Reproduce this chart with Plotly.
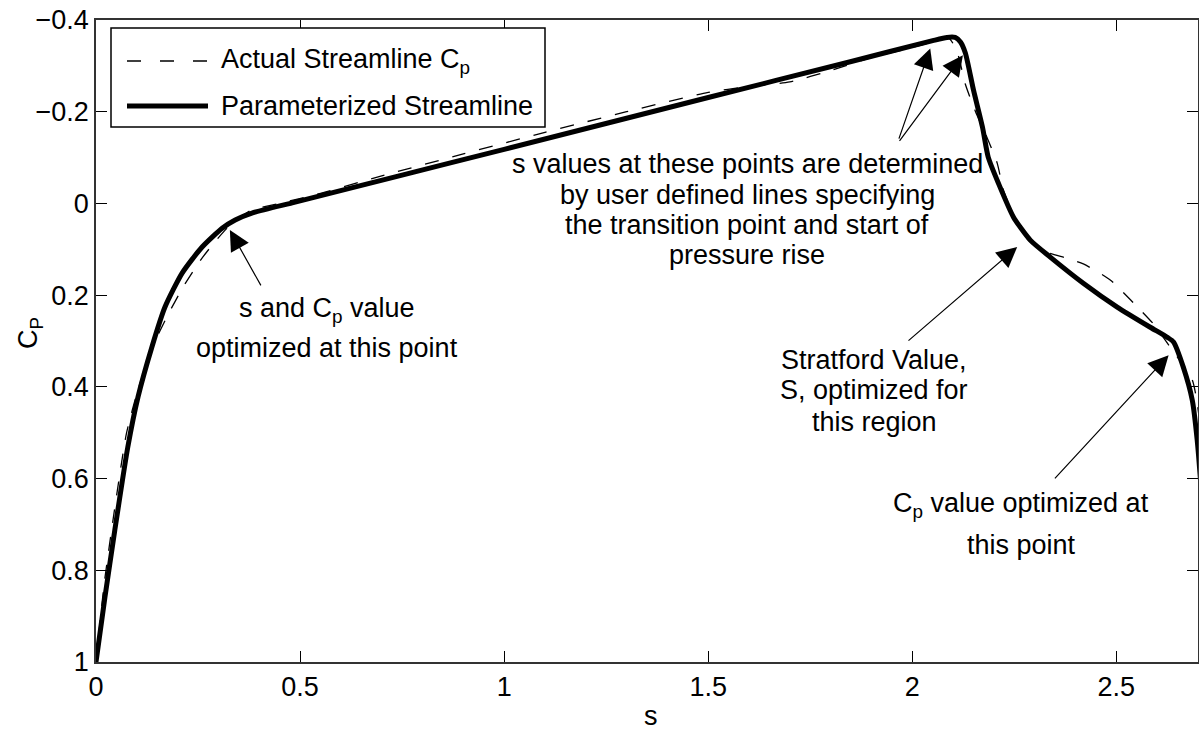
import plotly.graph_objects as go

# Parameterized streamline Cp distribution
s_param = [0.0, 0.022, 0.046, 0.078, 0.103, 0.137, 0.169, 0.211, 0.26, 0.309,
           0.341, 0.382, 0.488, 0.733, 1.0, 1.5, 1.848, 2.05, 2.085, 2.105,
           2.118, 2.13, 2.15, 2.172, 2.186, 2.211, 2.248, 2.289, 2.338, 2.419,
           2.502, 2.583, 2.625, 2.64, 2.664, 2.686, 2.698, 2.71, 2.725]
cp_param = [1.0, 0.858, 0.713, 0.531, 0.422, 0.313, 0.226, 0.152, 0.095, 0.054,
            0.036, 0.021, -0.003, -0.058, -0.118, -0.231, -0.309, -0.355, -0.362, -0.362,
            -0.352, -0.328, -0.247, -0.166, -0.101, -0.044, 0.030, 0.080, 0.117, 0.174,
            0.226, 0.270, 0.292, 0.302, 0.357, 0.429, 0.516, 0.65, 0.85]

# Actual streamline Cp distribution
s_actual = [0.0, 0.02, 0.045, 0.075, 0.105, 0.14, 0.175, 0.215, 0.255, 0.29,
            0.32, 0.345, 0.38, 0.45, 0.55, 0.7, 0.9, 1.1, 1.3, 1.5,
            1.6, 1.7, 1.8, 1.9, 2.0, 2.05, 2.09, 2.11, 2.13, 2.155,
            2.18, 2.208, 2.223, 2.25, 2.272, 2.3, 2.331, 2.38, 2.419, 2.485,
            2.542, 2.591, 2.637, 2.686, 2.72]
cp_actual = [1.0, 0.83, 0.67, 0.5, 0.4, 0.31, 0.245, 0.18, 0.125, 0.085,
             0.055, 0.035, 0.015, 0.0, -0.022, -0.06, -0.108, -0.155, -0.2, -0.242,
             -0.255, -0.265, -0.29, -0.318, -0.34, -0.352, -0.36, -0.33, -0.26, -0.2,
             -0.15, -0.088, -0.03, 0.03, 0.068, 0.092, 0.107, 0.12, 0.132, 0.167,
             0.217, 0.263, 0.32, 0.385, 0.6]

x_ticks = [0, 0.5, 1, 1.5, 2, 2.5]
x_tick_labels = ["0", "0.5", "1", "1.5", "2", "2.5"]
y_ticks = [-0.4, -0.2, 0, 0.2, 0.4, 0.6, 0.8, 1]
y_tick_labels = ["\u22120.4", "\u22120.2", "0", "0.2", "0.4", "0.6", "0.8", "1"]

series_names = ["Actual Streamline C<sub>p</sub>", "Parameterized Streamline"]

# Callout text lines: (text, s, Cp)
callout_lines = [
    ("s and C<sub>p</sub> value", 0.566, 0.232),
    ("optimized at this point", 0.566, 0.316),
    ("s values at these points are determined", 1.596, -0.087),
    ("by user defined lines specifying", 1.596, -0.018),
    ("the transition point and start of", 1.596, 0.048),
    ("pressure rise", 1.596, 0.113),
    ("Stratford Value,", 1.907, 0.342),
    ("S, optimized for", 1.907, 0.407),
    ("this region", 1.907, 0.476),
    ("C<sub>p</sub> value optimized at", 2.267, 0.657),
    ("this point", 2.267, 0.745),
]

# Arrows: (tail s, tail Cp, head s, head Cp)
arrows = [
    (0.406, 0.182, 0.328, 0.058),
    (1.966, -0.138, 2.044, -0.338),
    (1.966, -0.133, 2.124, -0.323),
    (1.987, 0.302, 2.257, 0.095),
    (2.346, 0.603, 2.628, 0.331),
]

W, H = 1199, 732
L, R, T, B = 96, 1, 20, 70
FONT = "Liberation Sans, Arial, Helvetica, sans-serif"
FS = 27


def px_x(px):
    return (px - L) / (W - L - R)


def px_y(py):
    return (H - B - py) / (H - T - B)


fig = go.Figure()
fig.add_trace(go.Scatter(x=s_actual, y=cp_actual, mode="lines", name=series_names[0],
                         line=dict(color="black", width=1.3, dash="14px,14px",
                                   shape="spline", smoothing=0.6),
                         showlegend=False))
fig.add_trace(go.Scatter(x=s_param, y=cp_param, mode="lines", name=series_names[1],
                         line=dict(color="black", width=5, shape="spline", smoothing=0.6),
                         showlegend=False))

annotations = []
for text, sx, cy in callout_lines:
    annotations.append(dict(x=sx, y=cy, xref="x", yref="y", text=text, showarrow=False,
                            xanchor="center", yanchor="middle",
                            font=dict(family=FONT, size=FS, color="black")))
for ts, tc, hs, hc in arrows:
    annotations.append(dict(x=hs, y=hc, ax=ts, ay=tc, xref="x", yref="y",
                            axref="x", ayref="y", text="", showarrow=True,
                            arrowhead=2, arrowsize=3.4, arrowwidth=1.2,
                            arrowcolor="black", standoff=0, startstandoff=0))

# Axis titles placed in paper space
annotations.append(dict(x=px_x(30), y=px_y(333), xref="paper", yref="paper",
                        text="C<sub>P</sub>", textangle=-90, showarrow=False,
                        xanchor="center", yanchor="middle",
                        font=dict(family=FONT, size=FS, color="black")))
annotations.append(dict(x=px_x(651), y=px_y(716), xref="paper", yref="paper",
                        text="s", showarrow=False, xanchor="center", yanchor="middle",
                        font=dict(family=FONT, size=FS, color="black")))

# Legend box drawn in paper space
leg_left, leg_right, leg_top, leg_bottom = 111, 545, 28, 127
rows = [61, 106]
shapes = [
    dict(type="rect", xref="paper", yref="paper",
         x0=px_x(leg_left), x1=px_x(leg_right), y0=px_y(leg_bottom), y1=px_y(leg_top),
         line=dict(color="black", width=1.5), fillcolor="white", layer="above"),
    dict(type="line", xref="paper", yref="paper",
         x0=px_x(127), x1=px_x(208), y0=px_y(rows[0]), y1=px_y(rows[0]),
         line=dict(color="black", width=1.3, dash="14px,19px"), layer="above"),
    dict(type="line", xref="paper", yref="paper",
         x0=px_x(127), x1=px_x(208), y0=px_y(rows[1]), y1=px_y(rows[1]),
         line=dict(color="black", width=5), layer="above"),
]
for name, ry in zip(series_names, rows):
    annotations.append(dict(x=px_x(219), y=px_y(ry), xref="paper", yref="paper",
                            text=name, showarrow=False, xanchor="left", yanchor="middle",
                            font=dict(family=FONT, size=FS, color="black")))

axis_common = dict(showgrid=False, zeroline=False, showline=True, linecolor="#333333",
                   linewidth=1.5, ticks="inside", ticklen=11, tickwidth=1,
                   tickcolor="black", mirror="ticks", automargin=False,
                   tickfont=dict(family=FONT, size=FS, color="black"))

fig.update_layout(
    width=W, height=H,
    margin=dict(l=L, r=R, t=T, b=B, pad=0, autoexpand=False),
    paper_bgcolor="white", plot_bgcolor="white",
    font=dict(family=FONT, size=FS, color="black"),
    xaxis=dict(range=[0, 2.7], tickvals=x_ticks, ticktext=x_tick_labels, **axis_common),
    yaxis=dict(range=[1, -0.4], tickvals=y_ticks, ticktext=y_tick_labels, **axis_common),
    annotations=annotations,
    shapes=shapes,
)

fig.write_html("out.html")
